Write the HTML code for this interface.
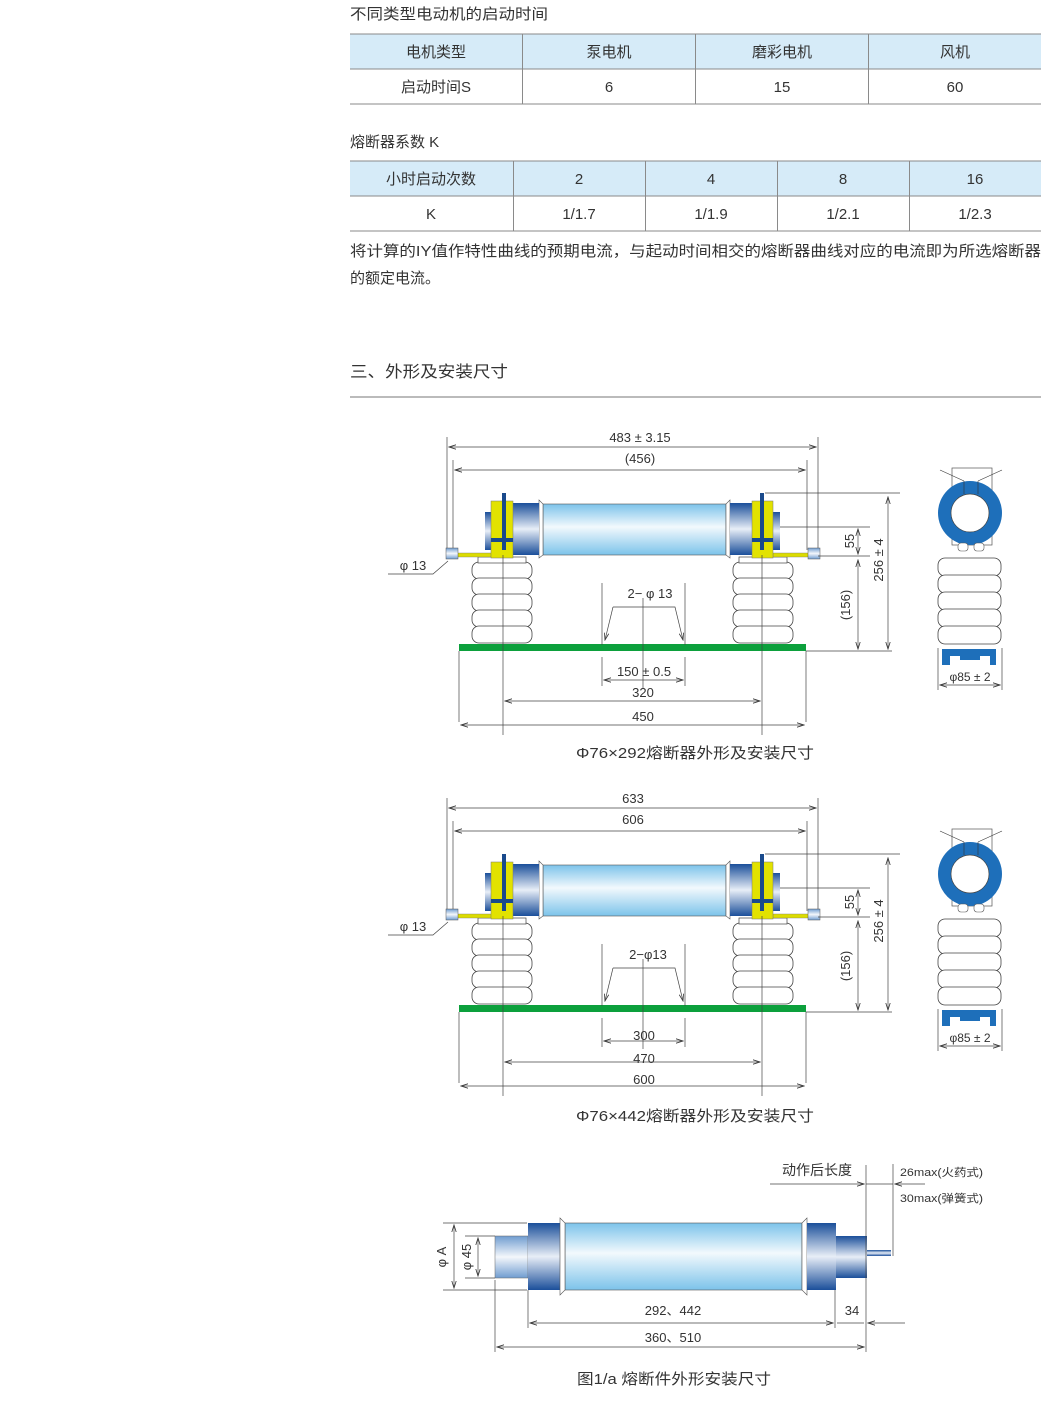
<!DOCTYPE html>
<html><head><meta charset="utf-8"><style>
body{margin:0;background:#fff;}
svg{display:block;font-family:"Liberation Sans","Noto Sans CJK SC",sans-serif;}
</style></head><body>
<svg width="1048" height="1401" viewBox="0 0 1048 1401" xmlns="http://www.w3.org/2000/svg">
<defs>
<linearGradient id="tube" x1="0" y1="0" x2="0" y2="1"><stop offset="0" stop-color="#7cc3ea"/><stop offset="0.45" stop-color="#f2f9fd"/><stop offset="1" stop-color="#7cc3ea"/></linearGradient>
<linearGradient id="cap" x1="0" y1="0" x2="0" y2="1"><stop offset="0" stop-color="#1b4f9a"/><stop offset="0.5" stop-color="#e8eef7"/><stop offset="1" stop-color="#1b4f9a"/></linearGradient>
<linearGradient id="scap" x1="0" y1="0" x2="0" y2="1"><stop offset="0" stop-color="#6f9cd0"/><stop offset="0.5" stop-color="#f4f7fb"/><stop offset="1" stop-color="#6f9cd0"/></linearGradient>
<marker id="a" markerWidth="8" markerHeight="6" refX="7" refY="3" orient="auto-start-reverse" markerUnits="userSpaceOnUse"><path d="M0,0.8 L7,3 L0,5.2" fill="none" stroke="#333" stroke-width="0.8"/></marker>
<g id="ins" fill="#fff" stroke="#444" stroke-width="0.8">
<rect x="0" y="0" width="60" height="17" rx="7"/><rect x="0" y="16" width="60" height="17" rx="7"/><rect x="0" y="32" width="60" height="17" rx="7"/><rect x="0" y="48" width="60" height="17" rx="7"/><rect x="0" y="64" width="60" height="17" rx="7"/>
</g>
<g id="asm">
<g stroke="#444" stroke-width="0.7" fill="none">
<line x1="447" y1="437" x2="447" y2="553"/><line x1="818" y1="437" x2="818" y2="553"/>
<line x1="453" y1="460" x2="453" y2="550"/><line x1="807" y1="460" x2="807" y2="550"/>
<line x1="449" y1="447" x2="816" y2="447" marker-start="url(#a)" marker-end="url(#a)"/>
<line x1="455" y1="470" x2="805" y2="470" marker-start="url(#a)" marker-end="url(#a)"/>
</g>
<use href="#ins" x="472" y="562"/><use href="#ins" x="733" y="562"/>
<rect x="478" y="557" width="48" height="6" fill="#fff" stroke="#444" stroke-width="0.7"/>
<rect x="739" y="557" width="48" height="6" fill="#fff" stroke="#444" stroke-width="0.7"/>
<rect x="543" y="504" width="183" height="51" fill="url(#tube)" stroke="#555" stroke-width="0.6"/>
<polygon points="539,500 543,504 543,555 539,558" fill="#fff" stroke="#555" stroke-width="0.6"/>
<polygon points="730,500 726,504 726,555 730,558" fill="#fff" stroke="#555" stroke-width="0.6"/>
<rect x="513" y="503" width="26" height="52" fill="url(#cap)"/>
<rect x="730" y="503" width="22" height="52" fill="url(#cap)"/>
<rect x="485" y="512" width="7" height="38" fill="url(#cap)"/>
<rect x="773" y="512" width="7" height="38" fill="url(#cap)"/>
<rect x="456" y="553" width="36" height="4" fill="#dcdc00" stroke="#777" stroke-width="0.4"/>
<rect x="773" y="553" width="36" height="4" fill="#dcdc00" stroke="#777" stroke-width="0.4"/>
<rect x="491" y="501" width="22" height="57" fill="#e2e200" stroke="#777" stroke-width="0.5"/>
<rect x="752" y="501" width="21" height="57" fill="#e2e200" stroke="#777" stroke-width="0.5"/>
<rect x="491" y="538" width="22" height="4" fill="#1a4a8c"/><rect x="752" y="538" width="21" height="4" fill="#1a4a8c"/>
<rect x="502" y="493" width="4" height="57" fill="#1a4a8c"/><rect x="760" y="493" width="4" height="57" fill="#1a4a8c"/>
<rect x="446" y="548" width="12" height="11" fill="url(#scap)" stroke="#555" stroke-width="0.5"/>
<rect x="808" y="548" width="12" height="11" fill="url(#scap)" stroke="#555" stroke-width="0.5"/>
<rect x="459" y="644" width="347" height="7" fill="#0ca03c"/>
<g stroke="#444" stroke-width="0.7" fill="none">
<line x1="503" y1="555" x2="503" y2="735"/><line x1="762" y1="555" x2="762" y2="735"/>
<line x1="459" y1="651" x2="459" y2="722"/><line x1="806" y1="651" x2="806" y2="722"/>
<line x1="602" y1="583" x2="602" y2="645"/><line x1="685" y1="583" x2="685" y2="645"/>
<line x1="602" y1="657" x2="602" y2="686"/><line x1="685" y1="657" x2="685" y2="686"/>
<polyline points="613,607 605,640" marker-end="url(#a)"/><polyline points="613,607 675,607 683,640" marker-end="url(#a)"/>
<line x1="643" y1="598" x2="643" y2="688"/>
<line x1="604" y1="680" x2="683" y2="680" marker-start="url(#a)" marker-end="url(#a)"/>
<line x1="505" y1="701" x2="760" y2="701" marker-start="url(#a)" marker-end="url(#a)"/>
<line x1="461" y1="725" x2="804" y2="725" marker-start="url(#a)" marker-end="url(#a)"/>
<line x1="765" y1="493" x2="900" y2="493"/><line x1="780" y1="527" x2="870" y2="527"/>
<line x1="818" y1="556" x2="870" y2="556"/><line x1="806" y1="651" x2="892" y2="651"/>
<line x1="858" y1="529" x2="858" y2="554" marker-start="url(#a)" marker-end="url(#a)"/>
<line x1="858" y1="560" x2="858" y2="649" marker-start="url(#a)" marker-end="url(#a)"/>
<line x1="888" y1="497" x2="888" y2="649" marker-start="url(#a)" marker-end="url(#a)"/>
<polyline points="388,574 433,574 448,561"/>
</g>
<rect x="952" y="468" width="40" height="77" fill="#fff" stroke="#555" stroke-width="0.7"/>
<circle cx="970" cy="513" r="32" fill="#1e6fba"/><circle cx="970" cy="513" r="19" fill="#fff" stroke="#444" stroke-width="0.7"/>
<g stroke="#333" stroke-width="0.6"><line x1="940" y1="470" x2="964" y2="481"/><line x1="1002" y1="470" x2="978" y2="481"/><line x1="964" y1="481" x2="964" y2="494"/><line x1="978" y1="481" x2="978" y2="494"/></g>
<rect x="958" y="543" width="10" height="8" rx="3" fill="#fff" stroke="#555" stroke-width="0.6"/><rect x="974" y="543" width="10" height="8" rx="3" fill="#fff" stroke="#555" stroke-width="0.6"/>
<g fill="#fff" stroke="#444" stroke-width="0.8">
<rect x="938" y="558" width="63" height="18" rx="7"/><rect x="938" y="575" width="63" height="18" rx="7"/><rect x="938" y="592" width="63" height="18" rx="7"/><rect x="938" y="609" width="63" height="18" rx="7"/><rect x="938" y="626" width="63" height="18" rx="7"/>
</g>
<path d="M942,649 H996 V665 H990 V656 H980 V660 H960 V656 H950 V665 H942 Z" fill="#1e6fba"/>
<g stroke="#444" stroke-width="0.7"><line x1="938" y1="648" x2="938" y2="690"/><line x1="1002" y1="648" x2="1002" y2="690"/>
<line x1="940" y1="685" x2="1000" y2="685" marker-start="url(#a)" marker-end="url(#a)"/></g>
<text x="970" y="681" font-size="12" text-anchor="middle" fill="#333">φ85 ± 2</text>
<text x="413" y="570" font-size="13" text-anchor="middle" fill="#333">φ 13</text>
</g>
</defs>

<g fill="#333" font-size="15">
<text x="350" y="19" textLength="198" lengthAdjust="spacingAndGlyphs">不同类型电动机的启动时间</text>
<text x="350" y="147">熔断器系数 K</text>
<text x="350" y="256" textLength="691" lengthAdjust="spacingAndGlyphs">将计算的IY值作特性曲线的预期电流，与起动时间相交的熔断器曲线对应的电流即为所选熔断器</text>
<text x="350" y="283" textLength="90" lengthAdjust="spacingAndGlyphs">的额定电流。</text>
<text x="350" y="377" font-size="16" textLength="158" lengthAdjust="spacingAndGlyphs">三、外形及安装尺寸</text>
</g>
<line x1="350" y1="397" x2="1041" y2="397" stroke="#777" stroke-width="1"/>

<rect x="350" y="34" width="691" height="35" fill="#d6ebf8"/>
<g stroke="#8a8a8a" stroke-width="1">
<line x1="350" y1="34" x2="1041" y2="34"/><line x1="350" y1="69" x2="1041" y2="69"/><line x1="350" y1="104" x2="1041" y2="104"/>
<line x1="522.5" y1="34" x2="522.5" y2="104"/><line x1="695.5" y1="34" x2="695.5" y2="104"/><line x1="868.5" y1="34" x2="868.5" y2="104"/>
</g>
<g fill="#333" font-size="15" text-anchor="middle">
<text x="436" y="57">电机类型</text><text x="609" y="57">泵电机</text><text x="782" y="57">磨彩电机</text><text x="955" y="57">风机</text>
<text x="436" y="92">启动时间S</text><text x="609" y="92">6</text><text x="782" y="92">15</text><text x="955" y="92">60</text>
</g>
<rect x="350" y="161" width="691" height="35" fill="#d6ebf8"/>
<g stroke="#8a8a8a" stroke-width="1">
<line x1="350" y1="161" x2="1041" y2="161"/><line x1="350" y1="196" x2="1041" y2="196"/><line x1="350" y1="231" x2="1041" y2="231"/>
<line x1="513.5" y1="161" x2="513.5" y2="231"/><line x1="645.5" y1="161" x2="645.5" y2="231"/><line x1="777.5" y1="161" x2="777.5" y2="231"/><line x1="909.5" y1="161" x2="909.5" y2="231"/>
</g>
<g fill="#333" font-size="15" text-anchor="middle">
<text x="431" y="184">小时启动次数</text><text x="579" y="184">2</text><text x="711" y="184">4</text><text x="843" y="184">8</text><text x="975" y="184">16</text>
<text x="431" y="219">K</text><text x="579" y="219">1/1.7</text><text x="711" y="219">1/1.9</text><text x="843" y="219">1/2.1</text><text x="975" y="219">1/2.3</text>
</g>

<use href="#asm"/>
<g fill="#333" font-size="13" text-anchor="middle">
<text x="640" y="442">483 ± 3.15</text><text x="640" y="463">(456)</text>
<text x="650" y="598">2− φ 13</text><text x="644" y="676">150 ± 0.5</text><text x="643" y="697">320</text><text x="643" y="721">450</text>
<text transform="translate(854,541) rotate(-90)">55</text>
<text transform="translate(850,605) rotate(-90)">(156)</text>
<text transform="translate(883,560) rotate(-90)">256 ± 4</text>
<text x="695" y="758" font-size="15" textLength="238" lengthAdjust="spacingAndGlyphs">Φ76×292熔断器外形及安装尺寸</text>
</g>

<use href="#asm" y="361"/>
<g fill="#333" font-size="13" text-anchor="middle">
<text x="633" y="803">633</text><text x="633" y="824">606</text>
<text x="648" y="959">2−φ13</text><text x="644" y="1040">300</text><text x="644" y="1063">470</text><text x="644" y="1084">600</text>
<text transform="translate(854,902) rotate(-90)">55</text>
<text transform="translate(850,966) rotate(-90)">(156)</text>
<text transform="translate(883,921) rotate(-90)">256 ± 4</text>
<text x="695" y="1121" font-size="15" textLength="238" lengthAdjust="spacingAndGlyphs">Φ76×442熔断器外形及安装尺寸</text>
</g>

<rect x="495" y="1236" width="33" height="42" fill="url(#scap)" stroke="#666" stroke-width="0.5"/>
<rect x="528" y="1223" width="32" height="67" fill="url(#cap)"/>
<rect x="565" y="1223" width="237" height="67" fill="url(#tube)" stroke="#555" stroke-width="0.6"/>
<polygon points="560,1218 565,1223 565,1290 560,1295" fill="#fff" stroke="#555" stroke-width="0.6"/>
<polygon points="807,1218 802,1223 802,1290 807,1295" fill="#fff" stroke="#555" stroke-width="0.6"/>
<rect x="807" y="1223" width="29" height="67" fill="url(#cap)"/>
<rect x="836" y="1236" width="31" height="42" fill="url(#cap)"/>
<rect x="867" y="1250" width="24" height="6" fill="url(#cap)"/>
<g stroke="#444" stroke-width="0.7" fill="none">
<line x1="443" y1="1223" x2="527" y2="1223"/><line x1="443" y1="1290" x2="527" y2="1290"/>
<line x1="454" y1="1225" x2="454" y2="1288" marker-start="url(#a)" marker-end="url(#a)"/>
<line x1="465" y1="1236" x2="495" y2="1236"/><line x1="465" y1="1278" x2="495" y2="1278"/>
<line x1="478" y1="1238" x2="478" y2="1276" marker-start="url(#a)" marker-end="url(#a)"/>
<line x1="495" y1="1280" x2="495" y2="1352"/><line x1="528" y1="1290" x2="528" y2="1328"/><line x1="835" y1="1290" x2="835" y2="1328"/>
<line x1="866" y1="1165" x2="866" y2="1352"/><line x1="893" y1="1164" x2="893" y2="1256"/>
<line x1="530" y1="1323" x2="833" y2="1323" marker-start="url(#a)" marker-end="url(#a)"/>
<line x1="837" y1="1323" x2="864" y2="1323"/>
<line x1="905" y1="1323" x2="868" y2="1323" marker-end="url(#a)"/>
<line x1="497" y1="1347" x2="864" y2="1347" marker-start="url(#a)" marker-end="url(#a)"/>
<line x1="770" y1="1184" x2="864" y2="1184" marker-end="url(#a)"/>
<line x1="866" y1="1184" x2="893" y2="1184"/>
<line x1="925" y1="1184" x2="895" y2="1184" marker-end="url(#a)"/>
</g>
<g fill="#333" font-size="13">
<text x="852" y="1175" font-size="14" text-anchor="end">动作后长度</text>
<text x="900" y="1176" font-size="11" textLength="83" lengthAdjust="spacingAndGlyphs">26max(火药式)</text>
<text x="900" y="1202" font-size="11" textLength="83" lengthAdjust="spacingAndGlyphs">30max(弹簧式)</text>
<text x="673" y="1315" text-anchor="middle">292、442</text>
<text x="852" y="1315" text-anchor="middle">34</text>
<text x="673" y="1342" text-anchor="middle">360、510</text>
<text transform="translate(446,1257) rotate(-90)" text-anchor="middle">φ A</text>
<text transform="translate(471,1257) rotate(-90)" text-anchor="middle">φ 45</text>
<text x="674" y="1384" font-size="15" text-anchor="middle" textLength="194" lengthAdjust="spacingAndGlyphs">图1/a 熔断件外形安装尺寸</text>
</g>
</svg>
</body></html>
